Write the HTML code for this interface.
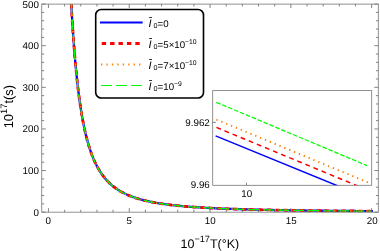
<!DOCTYPE html><html><head><meta charset="utf-8"><style>html,body{margin:0;padding:0;background:#fff}svg{display:block;will-change:transform}text{font-family:"Liberation Sans",sans-serif;fill:#000;text-rendering:geometricPrecision}</style></head><body>
<svg width="380" height="251" viewBox="0 0 380 251">
<rect width="380" height="251" fill="#fff"/>
<clipPath id="c"><rect x="41.75" y="4.1" width="336.55" height="208.07"/></clipPath>
<g clip-path="url(#c)" fill="none">
<path d="M71.26,4.10 L71.41,6.84 L71.56,9.54 L71.72,12.21 L71.87,14.85 L72.03,17.44 L72.18,20.01 L72.34,22.54 L72.50,25.04 L72.66,27.50 L72.82,29.93 L72.98,32.33 L73.15,34.70 L73.31,37.04 L73.48,39.34 L73.64,41.62 L73.81,43.86 L73.98,46.08 L74.15,48.27 L74.32,50.43 L74.49,52.56 L74.66,54.66 L74.84,56.73 L75.01,58.78 L75.19,60.80 L75.37,62.79 L75.55,64.76 L75.73,66.70 L75.91,68.62 L76.09,70.51 L76.28,72.37 L76.46,74.21 L76.65,76.03 L76.83,77.82 L77.02,79.59 L77.21,81.34 L77.40,83.06 L77.60,84.76 L77.79,86.44 L77.99,88.09 L78.18,89.73 L78.38,91.34 L78.58,92.93 L78.78,94.50 L78.98,96.05 L79.18,97.58 L79.39,99.09 L79.59,100.58 L79.80,102.05 L80.01,103.50 L80.22,104.93 L80.43,106.34 L80.64,107.73 L80.86,109.11 L81.07,110.47 L81.29,111.81 L81.51,113.13 L81.73,114.43 L81.95,115.72 L82.17,116.99 L82.40,118.24 L82.62,119.48 L82.85,120.70 L83.08,121.90 L83.31,123.09 L83.54,124.27 L83.77,125.42 L84.01,126.57 L84.24,127.69 L84.48,128.81 L84.72,129.90 L84.96,130.99 L85.21,132.06 L85.45,133.11 L85.70,134.15 L85.94,135.18 L86.19,136.19 L86.45,137.19 L86.70,138.18 L86.95,139.15 L87.21,140.12 L87.47,141.07 L87.73,142.00 L87.99,142.93 L88.25,143.84 L88.51,144.74 L88.78,145.63 L89.05,146.50 L89.32,147.37 L89.59,148.22 L89.86,149.06 L90.14,149.89 L90.42,150.71 L90.70,151.52 L90.98,152.32 L91.26,153.11 L91.54,153.89 L91.83,154.65 L92.12,155.41 L92.41,156.16 L92.70,156.90 L93.00,157.62 L93.29,158.34 L93.59,159.05 L93.89,159.75 L94.19,160.44 L94.50,161.12 L94.80,161.79 L95.11,162.46 L95.42,163.11 L95.73,163.76 L96.05,164.40 L96.37,165.03 L96.68,165.65 L97.00,166.26 L97.33,166.86 L97.65,167.46 L97.98,168.05 L98.31,168.63 L98.64,169.20 L98.97,169.77 L99.31,170.33 L99.65,170.88 L99.99,171.42 L100.33,171.96 L100.68,172.49 L101.02,173.01 L101.37,173.53 L101.73,174.04 L102.08,174.54 L102.44,175.03 L102.80,175.52 L103.16,176.00 L103.52,176.48 L103.89,176.95 L104.26,177.41 L104.63,177.87 L105.00,178.32 L105.38,178.77 L105.75,179.21 L106.14,179.64 L106.52,180.07 L106.91,180.49 L107.29,180.91 L107.69,181.32 L108.08,181.73 L108.48,182.13 L108.88,182.53 L109.28,182.92 L109.68,183.30 L110.09,183.68 L110.50,184.06 L110.91,184.43 L111.33,184.79 L111.74,185.15 L112.17,185.51 L112.59,185.86 L113.02,186.21 L113.45,186.55 L113.88,186.89 L114.31,187.22 L114.75,187.55 L115.19,187.87 L115.64,188.19 L116.08,188.51 L116.53,188.82 L116.98,189.13 L117.44,189.43 L117.90,189.73 L118.36,190.02 L118.83,190.32 L119.29,190.60 L119.77,190.89 L120.24,191.17 L120.72,191.44 L121.20,191.72 L121.68,191.99 L122.17,192.25 L122.66,192.51 L123.15,192.77 L123.65,193.03 L124.15,193.28 L124.65,193.53 L125.16,193.78 L125.67,194.02 L126.18,194.26 L126.70,194.49 L127.22,194.73 L127.74,194.95 L128.27,195.18 L128.80,195.41 L129.34,195.63 L129.87,195.84 L130.42,196.06 L130.96,196.27 L131.51,196.48 L132.06,196.69 L132.62,196.89 L133.18,197.09 L133.74,197.29 L134.31,197.49 L134.88,197.68 L135.45,197.87 L136.03,198.06 L136.61,198.24 L137.20,198.43 L137.79,198.61 L138.38,198.79 L138.98,198.96 L139.58,199.14 L140.19,199.31 L140.80,199.48 L141.42,199.65 L142.03,199.81 L142.66,199.97 L143.28,200.13 L143.91,200.29 L144.55,200.45 L145.19,200.60 L145.83,200.76 L146.48,200.91 L147.13,201.05 L147.79,201.20 L148.45,201.35 L149.11,201.49 L149.78,201.63 L150.45,201.77 L151.13,201.90 L151.82,202.04 L152.50,202.17 L153.19,202.30 L153.89,202.43 L154.59,202.56 L155.30,202.69 L156.01,202.81 L156.72,202.94 L157.44,203.06 L158.17,203.18 L158.90,203.30 L159.63,203.41 L160.37,203.53 L161.12,203.64 L161.87,203.76 L162.62,203.87 L163.38,203.98 L164.14,204.08 L164.91,204.19 L165.69,204.30 L166.47,204.40 L167.25,204.50 L168.04,204.60 L168.84,204.70 L169.64,204.80 L170.44,204.90 L171.25,204.99 L172.07,205.09 L172.89,205.18 L173.72,205.27 L174.55,205.36 L175.39,205.45 L176.24,205.54 L177.09,205.63 L177.94,205.72 L178.80,205.80 L179.67,205.88 L180.54,205.97 L181.42,206.05 L182.31,206.13 L183.20,206.21 L184.09,206.29 L184.99,206.36 L185.90,206.44 L186.82,206.52 L187.74,206.59 L188.66,206.66 L189.59,206.74 L190.53,206.81 L191.48,206.88 L192.43,206.95 L193.39,207.02 L194.35,207.09 L195.32,207.15 L196.30,207.22 L197.28,207.28 L198.27,207.35 L199.27,207.41 L200.27,207.47 L201.28,207.54 L202.30,207.60 L203.32,207.66 L204.35,207.72 L205.38,207.78 L206.43,207.83 L207.48,207.89 L208.54,207.95 L209.60,208.00 L210.67,208.06 L211.75,208.11 L212.84,208.16 L213.93,208.22 L215.03,208.27 L216.14,208.32 L217.25,208.37 L218.38,208.42 L219.51,208.47 L220.64,208.52 L221.79,208.57 L222.94,208.62 L224.10,208.66 L225.27,208.71 L226.45,208.75 L227.63,208.80 L228.82,208.84 L230.02,208.89 L231.23,208.93 L232.44,208.97 L233.67,209.01 L234.90,209.06 L236.14,209.10 L237.39,209.14 L238.64,209.18 L239.91,209.22 L241.18,209.26 L242.46,209.29 L243.75,209.33 L245.05,209.37 L246.36,209.41 L247.67,209.44 L249.00,209.48 L250.33,209.51 L251.68,209.55 L253.03,209.58 L254.39,209.62 L255.76,209.65 L257.14,209.68 L258.52,209.72 L259.92,209.75 L261.33,209.78 L262.74,209.81 L264.17,209.84 L265.60,209.87 L267.05,209.90 L268.50,209.93 L269.96,209.96 L271.44,209.99 L272.92,210.02 L274.41,210.05 L275.91,210.08 L277.43,210.11 L278.95,210.13 L280.48,210.16 L282.03,210.19 L283.58,210.21 L285.14,210.24 L286.72,210.26 L288.30,210.29 L289.90,210.31 L291.50,210.34 L293.12,210.36 L294.74,210.39 L296.38,210.41 L298.03,210.43 L299.69,210.46 L301.36,210.48 L303.04,210.50 L304.74,210.52 L306.44,210.54 L308.16,210.57 L309.88,210.59 L311.62,210.61 L313.37,210.63 L315.13,210.65 L316.91,210.67 L318.69,210.69 L320.49,210.71 L322.30,210.73 L324.12,210.75 L325.95,210.76 L327.80,210.78 L329.66,210.80 L331.53,210.82 L333.41,210.84 L335.30,210.85 L337.21,210.87 L339.13,210.89 L341.06,210.91 L343.01,210.92 L344.97,210.94 L346.94,210.96 L348.92,210.97 L350.92,210.99 L352.93,211.00 L354.96,211.02 L357.00,211.03 L359.05,211.05 L361.11,211.06 L363.19,211.08 L365.29,211.09 L367.39,211.11 L369.51,211.12 L371.65,211.13 L372.95,211.13" stroke="#0000ff" stroke-width="2.3"/>
<path d="M71.26,4.10 L71.41,6.84 L71.56,9.54 L71.72,12.21 L71.87,14.85 L72.03,17.44 L72.18,20.01 L72.34,22.54 L72.50,25.04 L72.66,27.50 L72.82,29.93 L72.98,32.33 L73.15,34.70 L73.31,37.04 L73.48,39.34 L73.64,41.62 L73.81,43.86 L73.98,46.08 L74.15,48.27 L74.32,50.43 L74.49,52.56 L74.66,54.66 L74.84,56.73 L75.01,58.78 L75.19,60.80 L75.37,62.79 L75.55,64.76 L75.73,66.70 L75.91,68.62 L76.09,70.51 L76.28,72.37 L76.46,74.21 L76.65,76.03 L76.83,77.82 L77.02,79.59 L77.21,81.34 L77.40,83.06 L77.60,84.76 L77.79,86.44 L77.99,88.09 L78.18,89.73 L78.38,91.34 L78.58,92.93 L78.78,94.50 L78.98,96.05 L79.18,97.58 L79.39,99.09 L79.59,100.58 L79.80,102.05 L80.01,103.50 L80.22,104.93 L80.43,106.34 L80.64,107.73 L80.86,109.11 L81.07,110.47 L81.29,111.81 L81.51,113.13 L81.73,114.43 L81.95,115.72 L82.17,116.99 L82.40,118.24 L82.62,119.48 L82.85,120.70 L83.08,121.90 L83.31,123.09 L83.54,124.27 L83.77,125.42 L84.01,126.57 L84.24,127.69 L84.48,128.81 L84.72,129.90 L84.96,130.99 L85.21,132.06 L85.45,133.11 L85.70,134.15 L85.94,135.18 L86.19,136.19 L86.45,137.19 L86.70,138.18 L86.95,139.15 L87.21,140.12 L87.47,141.07 L87.73,142.00 L87.99,142.93 L88.25,143.84 L88.51,144.74 L88.78,145.63 L89.05,146.50 L89.32,147.37 L89.59,148.22 L89.86,149.06 L90.14,149.89 L90.42,150.71 L90.70,151.52 L90.98,152.32 L91.26,153.11 L91.54,153.89 L91.83,154.65 L92.12,155.41 L92.41,156.16 L92.70,156.90 L93.00,157.62 L93.29,158.34 L93.59,159.05 L93.89,159.75 L94.19,160.44 L94.50,161.12 L94.80,161.79 L95.11,162.46 L95.42,163.11 L95.73,163.76 L96.05,164.40 L96.37,165.03 L96.68,165.65 L97.00,166.26 L97.33,166.86 L97.65,167.46 L97.98,168.05 L98.31,168.63 L98.64,169.20 L98.97,169.77 L99.31,170.33 L99.65,170.88 L99.99,171.42 L100.33,171.96 L100.68,172.49 L101.02,173.01 L101.37,173.53 L101.73,174.04 L102.08,174.54 L102.44,175.03 L102.80,175.52 L103.16,176.00 L103.52,176.48 L103.89,176.95 L104.26,177.41 L104.63,177.87 L105.00,178.32 L105.38,178.77 L105.75,179.21 L106.14,179.64 L106.52,180.07 L106.91,180.49 L107.29,180.91 L107.69,181.32 L108.08,181.73 L108.48,182.13 L108.88,182.53 L109.28,182.92 L109.68,183.30 L110.09,183.68 L110.50,184.06 L110.91,184.43 L111.33,184.79 L111.74,185.15 L112.17,185.51 L112.59,185.86 L113.02,186.21 L113.45,186.55 L113.88,186.89 L114.31,187.22 L114.75,187.55 L115.19,187.87 L115.64,188.19 L116.08,188.51 L116.53,188.82 L116.98,189.13 L117.44,189.43 L117.90,189.73 L118.36,190.02 L118.83,190.32 L119.29,190.60 L119.77,190.89 L120.24,191.17 L120.72,191.44 L121.20,191.72 L121.68,191.99 L122.17,192.25 L122.66,192.51 L123.15,192.77 L123.65,193.03 L124.15,193.28 L124.65,193.53 L125.16,193.78 L125.67,194.02 L126.18,194.26 L126.70,194.49 L127.22,194.73 L127.74,194.95 L128.27,195.18 L128.80,195.41 L129.34,195.63 L129.87,195.84 L130.42,196.06 L130.96,196.27 L131.51,196.48 L132.06,196.69 L132.62,196.89 L133.18,197.09 L133.74,197.29 L134.31,197.49 L134.88,197.68 L135.45,197.87 L136.03,198.06 L136.61,198.24 L137.20,198.43 L137.79,198.61 L138.38,198.79 L138.98,198.96 L139.58,199.14 L140.19,199.31 L140.80,199.48 L141.42,199.65 L142.03,199.81 L142.66,199.97 L143.28,200.13 L143.91,200.29 L144.55,200.45 L145.19,200.60 L145.83,200.76 L146.48,200.91 L147.13,201.05 L147.79,201.20 L148.45,201.35 L149.11,201.49 L149.78,201.63 L150.45,201.77 L151.13,201.90 L151.82,202.04 L152.50,202.17 L153.19,202.30 L153.89,202.43 L154.59,202.56 L155.30,202.69 L156.01,202.81 L156.72,202.94 L157.44,203.06 L158.17,203.18 L158.90,203.30 L159.63,203.41 L160.37,203.53 L161.12,203.64 L161.87,203.76 L162.62,203.87 L163.38,203.98 L164.14,204.08 L164.91,204.19 L165.69,204.30 L166.47,204.40 L167.25,204.50 L168.04,204.60 L168.84,204.70 L169.64,204.80 L170.44,204.90 L171.25,204.99 L172.07,205.09 L172.89,205.18 L173.72,205.27 L174.55,205.36 L175.39,205.45 L176.24,205.54 L177.09,205.63 L177.94,205.72 L178.80,205.80 L179.67,205.88 L180.54,205.97 L181.42,206.05 L182.31,206.13 L183.20,206.21 L184.09,206.29 L184.99,206.36 L185.90,206.44 L186.82,206.52 L187.74,206.59 L188.66,206.66 L189.59,206.74 L190.53,206.81 L191.48,206.88 L192.43,206.95 L193.39,207.02 L194.35,207.09 L195.32,207.15 L196.30,207.22 L197.28,207.28 L198.27,207.35 L199.27,207.41 L200.27,207.47 L201.28,207.54 L202.30,207.60 L203.32,207.66 L204.35,207.72 L205.38,207.78 L206.43,207.83 L207.48,207.89 L208.54,207.95 L209.60,208.00 L210.67,208.06 L211.75,208.11 L212.84,208.16 L213.93,208.22 L215.03,208.27 L216.14,208.32 L217.25,208.37 L218.38,208.42 L219.51,208.47 L220.64,208.52 L221.79,208.57 L222.94,208.62 L224.10,208.66 L225.27,208.71 L226.45,208.75 L227.63,208.80 L228.82,208.84 L230.02,208.89 L231.23,208.93 L232.44,208.97 L233.67,209.01 L234.90,209.06 L236.14,209.10 L237.39,209.14 L238.64,209.18 L239.91,209.22 L241.18,209.26 L242.46,209.29 L243.75,209.33 L245.05,209.37 L246.36,209.41 L247.67,209.44 L249.00,209.48 L250.33,209.51 L251.68,209.55 L253.03,209.58 L254.39,209.62 L255.76,209.65 L257.14,209.68 L258.52,209.72 L259.92,209.75 L261.33,209.78 L262.74,209.81 L264.17,209.84 L265.60,209.87 L267.05,209.90 L268.50,209.93 L269.96,209.96 L271.44,209.99 L272.92,210.02 L274.41,210.05 L275.91,210.08 L277.43,210.11 L278.95,210.13 L280.48,210.16 L282.03,210.19 L283.58,210.21 L285.14,210.24 L286.72,210.26 L288.30,210.29 L289.90,210.31 L291.50,210.34 L293.12,210.36 L294.74,210.39 L296.38,210.41 L298.03,210.43 L299.69,210.46 L301.36,210.48 L303.04,210.50 L304.74,210.52 L306.44,210.54 L308.16,210.57 L309.88,210.59 L311.62,210.61 L313.37,210.63 L315.13,210.65 L316.91,210.67 L318.69,210.69 L320.49,210.71 L322.30,210.73 L324.12,210.75 L325.95,210.76 L327.80,210.78 L329.66,210.80 L331.53,210.82 L333.41,210.84 L335.30,210.85 L337.21,210.87 L339.13,210.89 L341.06,210.91 L343.01,210.92 L344.97,210.94 L346.94,210.96 L348.92,210.97 L350.92,210.99 L352.93,211.00 L354.96,211.02 L357.00,211.03 L359.05,211.05 L361.11,211.06 L363.19,211.08 L365.29,211.09 L367.39,211.11 L369.51,211.12 L371.65,211.13" stroke="#ff0000" stroke-width="2.8" stroke-dasharray="4.3 4"/>
<path d="M71.26,4.10 L71.41,6.84 L71.56,9.54 L71.72,12.21 L71.87,14.85 L72.03,17.44 L72.18,20.01 L72.34,22.54 L72.50,25.04 L72.66,27.50 L72.82,29.93 L72.98,32.33 L73.15,34.70 L73.31,37.04 L73.48,39.34 L73.64,41.62 L73.81,43.86 L73.98,46.08 L74.15,48.27 L74.32,50.43 L74.49,52.56 L74.66,54.66 L74.84,56.73 L75.01,58.78 L75.19,60.80 L75.37,62.79 L75.55,64.76 L75.73,66.70 L75.91,68.62 L76.09,70.51 L76.28,72.37 L76.46,74.21 L76.65,76.03 L76.83,77.82 L77.02,79.59 L77.21,81.34 L77.40,83.06 L77.60,84.76 L77.79,86.44 L77.99,88.09 L78.18,89.73 L78.38,91.34 L78.58,92.93 L78.78,94.50 L78.98,96.05 L79.18,97.58 L79.39,99.09 L79.59,100.58 L79.80,102.05 L80.01,103.50 L80.22,104.93 L80.43,106.34 L80.64,107.73 L80.86,109.11 L81.07,110.47 L81.29,111.81 L81.51,113.13 L81.73,114.43 L81.95,115.72 L82.17,116.99 L82.40,118.24 L82.62,119.48 L82.85,120.70 L83.08,121.90 L83.31,123.09 L83.54,124.27 L83.77,125.42 L84.01,126.57 L84.24,127.69 L84.48,128.81 L84.72,129.90 L84.96,130.99 L85.21,132.06 L85.45,133.11 L85.70,134.15 L85.94,135.18 L86.19,136.19 L86.45,137.19 L86.70,138.18 L86.95,139.15 L87.21,140.12 L87.47,141.07 L87.73,142.00 L87.99,142.93 L88.25,143.84 L88.51,144.74 L88.78,145.63 L89.05,146.50 L89.32,147.37 L89.59,148.22 L89.86,149.06 L90.14,149.89 L90.42,150.71 L90.70,151.52 L90.98,152.32 L91.26,153.11 L91.54,153.89 L91.83,154.65 L92.12,155.41 L92.41,156.16 L92.70,156.90 L93.00,157.62 L93.29,158.34 L93.59,159.05 L93.89,159.75 L94.19,160.44 L94.50,161.12 L94.80,161.79 L95.11,162.46 L95.42,163.11 L95.73,163.76 L96.05,164.40 L96.37,165.03 L96.68,165.65 L97.00,166.26 L97.33,166.86 L97.65,167.46 L97.98,168.05 L98.31,168.63 L98.64,169.20 L98.97,169.77 L99.31,170.33 L99.65,170.88 L99.99,171.42 L100.33,171.96 L100.68,172.49 L101.02,173.01 L101.37,173.53 L101.73,174.04 L102.08,174.54 L102.44,175.03 L102.80,175.52 L103.16,176.00 L103.52,176.48 L103.89,176.95 L104.26,177.41 L104.63,177.87 L105.00,178.32 L105.38,178.77 L105.75,179.21 L106.14,179.64 L106.52,180.07 L106.91,180.49 L107.29,180.91 L107.69,181.32 L108.08,181.73 L108.48,182.13 L108.88,182.53 L109.28,182.92 L109.68,183.30 L110.09,183.68 L110.50,184.06 L110.91,184.43 L111.33,184.79 L111.74,185.15 L112.17,185.51 L112.59,185.86 L113.02,186.21 L113.45,186.55 L113.88,186.89 L114.31,187.22 L114.75,187.55 L115.19,187.87 L115.64,188.19 L116.08,188.51 L116.53,188.82 L116.98,189.13 L117.44,189.43 L117.90,189.73 L118.36,190.02 L118.83,190.32 L119.29,190.60 L119.77,190.89 L120.24,191.17 L120.72,191.44 L121.20,191.72 L121.68,191.99 L122.17,192.25 L122.66,192.51 L123.15,192.77 L123.65,193.03 L124.15,193.28 L124.65,193.53 L125.16,193.78 L125.67,194.02 L126.18,194.26 L126.70,194.49 L127.22,194.73 L127.74,194.95 L128.27,195.18 L128.80,195.41 L129.34,195.63 L129.87,195.84 L130.42,196.06 L130.96,196.27 L131.51,196.48 L132.06,196.69 L132.62,196.89 L133.18,197.09 L133.74,197.29 L134.31,197.49 L134.88,197.68 L135.45,197.87 L136.03,198.06 L136.61,198.24 L137.20,198.43 L137.79,198.61 L138.38,198.79 L138.98,198.96 L139.58,199.14 L140.19,199.31 L140.80,199.48 L141.42,199.65 L142.03,199.81 L142.66,199.97 L143.28,200.13 L143.91,200.29 L144.55,200.45 L145.19,200.60 L145.83,200.76 L146.48,200.91 L147.13,201.05 L147.79,201.20 L148.45,201.35 L149.11,201.49 L149.78,201.63 L150.45,201.77 L151.13,201.90 L151.82,202.04 L152.50,202.17 L153.19,202.30 L153.89,202.43 L154.59,202.56 L155.30,202.69 L156.01,202.81 L156.72,202.94 L157.44,203.06 L158.17,203.18 L158.90,203.30 L159.63,203.41 L160.37,203.53 L161.12,203.64 L161.87,203.76 L162.62,203.87 L163.38,203.98 L164.14,204.08 L164.91,204.19 L165.69,204.30 L166.47,204.40 L167.25,204.50 L168.04,204.60 L168.84,204.70 L169.64,204.80 L170.44,204.90 L171.25,204.99 L172.07,205.09 L172.89,205.18 L173.72,205.27 L174.55,205.36 L175.39,205.45 L176.24,205.54 L177.09,205.63 L177.94,205.72 L178.80,205.80 L179.67,205.88 L180.54,205.97 L181.42,206.05 L182.31,206.13 L183.20,206.21 L184.09,206.29 L184.99,206.36 L185.90,206.44 L186.82,206.52 L187.74,206.59 L188.66,206.66 L189.59,206.74 L190.53,206.81 L191.48,206.88 L192.43,206.95 L193.39,207.02 L194.35,207.09 L195.32,207.15 L196.30,207.22 L197.28,207.28 L198.27,207.35 L199.27,207.41 L200.27,207.47 L201.28,207.54 L202.30,207.60 L203.32,207.66 L204.35,207.72 L205.38,207.78 L206.43,207.83 L207.48,207.89 L208.54,207.95 L209.60,208.00 L210.67,208.06 L211.75,208.11 L212.84,208.16 L213.93,208.22 L215.03,208.27 L216.14,208.32 L217.25,208.37 L218.38,208.42 L219.51,208.47 L220.64,208.52 L221.79,208.57 L222.94,208.62 L224.10,208.66 L225.27,208.71 L226.45,208.75 L227.63,208.80 L228.82,208.84 L230.02,208.89 L231.23,208.93 L232.44,208.97 L233.67,209.01 L234.90,209.06 L236.14,209.10 L237.39,209.14 L238.64,209.18 L239.91,209.22 L241.18,209.26 L242.46,209.29 L243.75,209.33 L245.05,209.37 L246.36,209.41 L247.67,209.44 L249.00,209.48 L250.33,209.51 L251.68,209.55 L253.03,209.58 L254.39,209.62 L255.76,209.65 L257.14,209.68 L258.52,209.72 L259.92,209.75 L261.33,209.78 L262.74,209.81 L264.17,209.84 L265.60,209.87 L267.05,209.90 L268.50,209.93 L269.96,209.96 L271.44,209.99 L272.92,210.02 L274.41,210.05 L275.91,210.08 L277.43,210.11 L278.95,210.13 L280.48,210.16 L282.03,210.19 L283.58,210.21 L285.14,210.24 L286.72,210.26 L288.30,210.29 L289.90,210.31 L291.50,210.34 L293.12,210.36 L294.74,210.39 L296.38,210.41 L298.03,210.43 L299.69,210.46 L301.36,210.48 L303.04,210.50 L304.74,210.52 L306.44,210.54 L308.16,210.57 L309.88,210.59 L311.62,210.61 L313.37,210.63 L315.13,210.65 L316.91,210.67 L318.69,210.69 L320.49,210.71 L322.30,210.73 L324.12,210.75 L325.95,210.76 L327.80,210.78 L329.66,210.80 L331.53,210.82 L333.41,210.84 L335.30,210.85 L337.21,210.87 L339.13,210.89 L341.06,210.91 L343.01,210.92 L344.97,210.94 L346.94,210.96 L348.92,210.97 L350.92,210.99 L352.93,211.00 L354.96,211.02 L357.00,211.03 L359.05,211.05 L361.11,211.06 L363.19,211.08 L365.29,211.09 L367.39,211.11 L369.51,211.12 L371.65,211.13" stroke="#ff8000" stroke-width="2" stroke-dasharray="1.3 4.1"/>
<path d="M71.26,4.10 L71.41,6.84 L71.56,9.54 L71.72,12.21 L71.87,14.85 L72.03,17.44 L72.18,20.01 L72.34,22.54 L72.50,25.04 L72.66,27.50 L72.82,29.93 L72.98,32.33 L73.15,34.70 L73.31,37.04 L73.48,39.34 L73.64,41.62 L73.81,43.86 L73.98,46.08 L74.15,48.27 L74.32,50.43 L74.49,52.56 L74.66,54.66 L74.84,56.73 L75.01,58.78 L75.19,60.80 L75.37,62.79 L75.55,64.76 L75.73,66.70 L75.91,68.62 L76.09,70.51 L76.28,72.37 L76.46,74.21 L76.65,76.03 L76.83,77.82 L77.02,79.59 L77.21,81.34 L77.40,83.06 L77.60,84.76 L77.79,86.44 L77.99,88.09 L78.18,89.73 L78.38,91.34 L78.58,92.93 L78.78,94.50 L78.98,96.05 L79.18,97.58 L79.39,99.09 L79.59,100.58 L79.80,102.05 L80.01,103.50 L80.22,104.93 L80.43,106.34 L80.64,107.73 L80.86,109.11 L81.07,110.47 L81.29,111.81 L81.51,113.13 L81.73,114.43 L81.95,115.72 L82.17,116.99 L82.40,118.24 L82.62,119.48 L82.85,120.70 L83.08,121.90 L83.31,123.09 L83.54,124.27 L83.77,125.42 L84.01,126.57 L84.24,127.69 L84.48,128.81 L84.72,129.90 L84.96,130.99 L85.21,132.06 L85.45,133.11 L85.70,134.15 L85.94,135.18 L86.19,136.19 L86.45,137.19 L86.70,138.18 L86.95,139.15 L87.21,140.12 L87.47,141.07 L87.73,142.00 L87.99,142.93 L88.25,143.84 L88.51,144.74 L88.78,145.63 L89.05,146.50 L89.32,147.37 L89.59,148.22 L89.86,149.06 L90.14,149.89 L90.42,150.71 L90.70,151.52 L90.98,152.32 L91.26,153.11 L91.54,153.89 L91.83,154.65 L92.12,155.41 L92.41,156.16 L92.70,156.90 L93.00,157.62 L93.29,158.34 L93.59,159.05 L93.89,159.75 L94.19,160.44 L94.50,161.12 L94.80,161.79 L95.11,162.46 L95.42,163.11 L95.73,163.76 L96.05,164.40 L96.37,165.03 L96.68,165.65 L97.00,166.26 L97.33,166.86 L97.65,167.46 L97.98,168.05 L98.31,168.63 L98.64,169.20 L98.97,169.77 L99.31,170.33 L99.65,170.88 L99.99,171.42 L100.33,171.96 L100.68,172.49 L101.02,173.01 L101.37,173.53 L101.73,174.04 L102.08,174.54 L102.44,175.03 L102.80,175.52 L103.16,176.00 L103.52,176.48 L103.89,176.95 L104.26,177.41 L104.63,177.87 L105.00,178.32 L105.38,178.77 L105.75,179.21 L106.14,179.64 L106.52,180.07 L106.91,180.49 L107.29,180.91 L107.69,181.32 L108.08,181.73 L108.48,182.13 L108.88,182.53 L109.28,182.92 L109.68,183.30 L110.09,183.68 L110.50,184.06 L110.91,184.43 L111.33,184.79 L111.74,185.15 L112.17,185.51 L112.59,185.86 L113.02,186.21 L113.45,186.55 L113.88,186.89 L114.31,187.22 L114.75,187.55 L115.19,187.87 L115.64,188.19 L116.08,188.51 L116.53,188.82 L116.98,189.13 L117.44,189.43 L117.90,189.73 L118.36,190.02 L118.83,190.32 L119.29,190.60 L119.77,190.89 L120.24,191.17 L120.72,191.44 L121.20,191.72 L121.68,191.99 L122.17,192.25 L122.66,192.51 L123.15,192.77 L123.65,193.03 L124.15,193.28 L124.65,193.53 L125.16,193.78 L125.67,194.02 L126.18,194.26 L126.70,194.49 L127.22,194.73 L127.74,194.95 L128.27,195.18 L128.80,195.41 L129.34,195.63 L129.87,195.84 L130.42,196.06 L130.96,196.27 L131.51,196.48 L132.06,196.69 L132.62,196.89 L133.18,197.09 L133.74,197.29 L134.31,197.49 L134.88,197.68 L135.45,197.87 L136.03,198.06 L136.61,198.24 L137.20,198.43 L137.79,198.61 L138.38,198.79 L138.98,198.96 L139.58,199.14 L140.19,199.31 L140.80,199.48 L141.42,199.65 L142.03,199.81 L142.66,199.97 L143.28,200.13 L143.91,200.29 L144.55,200.45 L145.19,200.60 L145.83,200.76 L146.48,200.91 L147.13,201.05 L147.79,201.20 L148.45,201.35 L149.11,201.49 L149.78,201.63 L150.45,201.77 L151.13,201.90 L151.82,202.04 L152.50,202.17 L153.19,202.30 L153.89,202.43 L154.59,202.56 L155.30,202.69 L156.01,202.81 L156.72,202.94 L157.44,203.06 L158.17,203.18 L158.90,203.30 L159.63,203.41 L160.37,203.53 L161.12,203.64 L161.87,203.76 L162.62,203.87 L163.38,203.98 L164.14,204.08 L164.91,204.19 L165.69,204.30 L166.47,204.40 L167.25,204.50 L168.04,204.60 L168.84,204.70 L169.64,204.80 L170.44,204.90 L171.25,204.99 L172.07,205.09 L172.89,205.18 L173.72,205.27 L174.55,205.36 L175.39,205.45 L176.24,205.54 L177.09,205.63 L177.94,205.72 L178.80,205.80 L179.67,205.88 L180.54,205.97 L181.42,206.05 L182.31,206.13 L183.20,206.21 L184.09,206.29 L184.99,206.36 L185.90,206.44 L186.82,206.52 L187.74,206.59 L188.66,206.66 L189.59,206.74 L190.53,206.81 L191.48,206.88 L192.43,206.95 L193.39,207.02 L194.35,207.09 L195.32,207.15 L196.30,207.22 L197.28,207.28 L198.27,207.35 L199.27,207.41 L200.27,207.47 L201.28,207.54 L202.30,207.60 L203.32,207.66 L204.35,207.72 L205.38,207.78 L206.43,207.83 L207.48,207.89 L208.54,207.95 L209.60,208.00 L210.67,208.06 L211.75,208.11 L212.84,208.16 L213.93,208.22 L215.03,208.27 L216.14,208.32 L217.25,208.37 L218.38,208.42 L219.51,208.47 L220.64,208.52 L221.79,208.57 L222.94,208.62 L224.10,208.66 L225.27,208.71 L226.45,208.75 L227.63,208.80 L228.82,208.84 L230.02,208.89 L231.23,208.93 L232.44,208.97 L233.67,209.01 L234.90,209.06 L236.14,209.10 L237.39,209.14 L238.64,209.18 L239.91,209.22 L241.18,209.26 L242.46,209.29 L243.75,209.33 L245.05,209.37 L246.36,209.41 L247.67,209.44 L249.00,209.48 L250.33,209.51 L251.68,209.55 L253.03,209.58 L254.39,209.62 L255.76,209.65 L257.14,209.68 L258.52,209.72 L259.92,209.75 L261.33,209.78 L262.74,209.81 L264.17,209.84 L265.60,209.87 L267.05,209.90 L268.50,209.93 L269.96,209.96 L271.44,209.99 L272.92,210.02 L274.41,210.05 L275.91,210.08 L277.43,210.11 L278.95,210.13 L280.48,210.16 L282.03,210.19 L283.58,210.21 L285.14,210.24 L286.72,210.26 L288.30,210.29 L289.90,210.31 L291.50,210.34 L293.12,210.36 L294.74,210.39 L296.38,210.41 L298.03,210.43 L299.69,210.46 L301.36,210.48 L303.04,210.50 L304.74,210.52 L306.44,210.54 L308.16,210.57 L309.88,210.59 L311.62,210.61 L313.37,210.63 L315.13,210.65 L316.91,210.67 L318.69,210.69 L320.49,210.71 L322.30,210.73 L324.12,210.75 L325.95,210.76 L327.80,210.78 L329.66,210.80 L331.53,210.82 L333.41,210.84 L335.30,210.85 L337.21,210.87 L339.13,210.89 L341.06,210.91 L343.01,210.92 L344.97,210.94 L346.94,210.96 L348.92,210.97 L350.92,210.99 L352.93,211.00 L354.96,211.02 L357.00,211.03 L359.05,211.05 L361.11,211.06 L363.19,211.08 L365.29,211.09 L367.39,211.11 L369.51,211.12 L371.65,211.13" stroke="#00ff00" stroke-width="1.25" stroke-dasharray="11 4"/>
</g>
<path d="M48.45,212.17v-4M48.45,4.1v4M64.61,212.17v-2.4M64.61,4.1v2.4M80.77,212.17v-2.4M80.77,4.1v2.4M96.93,212.17v-2.4M96.93,4.1v2.4M113.09,212.17v-2.4M113.09,4.1v2.4M129.25,212.17v-4M129.25,4.1v4M145.41,212.17v-2.4M145.41,4.1v2.4M161.57,212.17v-2.4M161.57,4.1v2.4M177.73,212.17v-2.4M177.73,4.1v2.4M193.89,212.17v-2.4M193.89,4.1v2.4M210.05,212.17v-4M210.05,4.1v4M226.21,212.17v-2.4M226.21,4.1v2.4M242.37,212.17v-2.4M242.37,4.1v2.4M258.53,212.17v-2.4M258.53,4.1v2.4M274.69,212.17v-2.4M274.69,4.1v2.4M290.85,212.17v-4M290.85,4.1v4M307.01,212.17v-2.4M307.01,4.1v2.4M323.17,212.17v-2.4M323.17,4.1v2.4M339.33,212.17v-2.4M339.33,4.1v2.4M355.49,212.17v-2.4M355.49,4.1v2.4M371.65,212.17v-4M371.65,4.1v4M41.75,212.17h4M378.3,212.17h-4M41.75,203.85h2.4M378.3,203.85h-2.4M41.75,195.52h2.4M378.3,195.52h-2.4M41.75,187.20h2.4M378.3,187.20h-2.4M41.75,178.88h2.4M378.3,178.88h-2.4M41.75,170.56h4M378.3,170.56h-4M41.75,162.23h2.4M378.3,162.23h-2.4M41.75,153.91h2.4M378.3,153.91h-2.4M41.75,145.59h2.4M378.3,145.59h-2.4M41.75,137.26h2.4M378.3,137.26h-2.4M41.75,128.94h4M378.3,128.94h-4M41.75,120.62h2.4M378.3,120.62h-2.4M41.75,112.30h2.4M378.3,112.30h-2.4M41.75,103.97h2.4M378.3,103.97h-2.4M41.75,95.65h2.4M378.3,95.65h-2.4M41.75,87.33h4M378.3,87.33h-4M41.75,79.01h2.4M378.3,79.01h-2.4M41.75,70.68h2.4M378.3,70.68h-2.4M41.75,62.36h2.4M378.3,62.36h-2.4M41.75,54.04h2.4M378.3,54.04h-2.4M41.75,45.71h4M378.3,45.71h-4M41.75,37.39h2.4M378.3,37.39h-2.4M41.75,29.07h2.4M378.3,29.07h-2.4M41.75,20.75h2.4M378.3,20.75h-2.4M41.75,12.42h2.4M378.3,12.42h-2.4M41.75,4.10h4M378.3,4.10h-4" stroke="#5a5a5a" stroke-width="0.75" fill="none"/>
<rect x="41.75" y="4.1" width="336.55" height="208.07" fill="none" stroke="#767676" stroke-width="0.8"/>
<text x="38.9" y="215.62" font-size="9.8" text-anchor="end">0</text>
<text x="38.9" y="174.01" font-size="9.8" text-anchor="end">100</text>
<text x="38.9" y="132.39" font-size="9.8" text-anchor="end">200</text>
<text x="38.9" y="90.78" font-size="9.8" text-anchor="end">300</text>
<text x="38.9" y="49.16" font-size="9.8" text-anchor="end">400</text>
<text x="38.9" y="7.55" font-size="9.8" text-anchor="end">500</text>
<text x="48.30" y="223.9" font-size="9.8" text-anchor="middle">0</text>
<text x="129.30" y="223.9" font-size="9.8" text-anchor="middle">5</text>
<text x="210.30" y="223.9" font-size="9.8" text-anchor="middle">10</text>
<text x="291.30" y="223.9" font-size="9.8" text-anchor="middle">15</text>
<text x="372.30" y="223.9" font-size="9.8" text-anchor="middle">20</text>
<text x="180.6" y="247.6" font-size="12.5">10<tspan font-size="9.1" dy="-5.8">−17</tspan><tspan dy="5.8">T(°K)</tspan></text>
<text transform="translate(12.9,128.3) rotate(-90)" font-size="12.9">10<tspan font-size="9.3" dy="-5.8">17</tspan><tspan dy="5.8">t(s)</tspan></text>
<rect x="95.7" y="9.5" width="107.8" height="88.5" rx="5.5" ry="5.5" fill="#fff" stroke="#000" stroke-width="1.6"/>
<path d="M100,22.5H142.6" stroke="#0000ff" stroke-width="2"/>
<path d="M101.7,43.5H142" stroke="#ff0000" stroke-width="3" stroke-dasharray="4.4 4.0"/>
<path d="M101,64.6H142" stroke="#ff8000" stroke-width="2" stroke-dasharray="1.3 4.14"/>
<path d="M101,85.5H142.4" stroke="#00ff00" stroke-width="1" stroke-dasharray="11 4"/>
<text x="148.4" y="26.8" font-size="11" font-style="italic">I</text>
<text x="153.5" y="27.6" font-size="7.2" fill="#111">0</text>
<text x="157.6" y="26.8" font-size="9.7">=0</text>
<path d="M149.1,17.5h2.9" stroke="#000" stroke-width="0.8"/>
<text x="148.4" y="47.8" font-size="11" font-style="italic">I</text>
<text x="153.5" y="48.599999999999994" font-size="7.2" fill="#111">0</text>
<text x="157.6" y="47.8" font-size="9.7">=5×10<tspan font-size="6.8" dy="-3.8">−10</tspan></text>
<path d="M149.1,38.5h2.9" stroke="#000" stroke-width="0.8"/>
<text x="148.4" y="68.8" font-size="11" font-style="italic">I</text>
<text x="153.5" y="69.6" font-size="7.2" fill="#111">0</text>
<text x="157.6" y="68.8" font-size="9.7">=7×10<tspan font-size="6.8" dy="-3.8">−10</tspan></text>
<path d="M149.1,59.5h2.9" stroke="#000" stroke-width="0.8"/>
<text x="148.4" y="89.8" font-size="11" font-style="italic">I</text>
<text x="153.5" y="90.6" font-size="7.2" fill="#111">0</text>
<text x="157.6" y="89.8" font-size="9.7">=10<tspan font-size="6.8" dy="-3.8">−9</tspan></text>
<path d="M149.1,80.5h2.9" stroke="#000" stroke-width="0.8"/>
<rect x="212.7" y="90.6" width="159.0" height="94.70000000000002" fill="#fff" stroke="#767676" stroke-width="0.8"/>
<clipPath id="ci"><rect x="212.7" y="90.6" width="159.0" height="94.70000000000002"/></clipPath>
<g clip-path="url(#ci)" fill="none">
<path d="M215.6,135.9L340,186.78" stroke="#0000ff" stroke-width="1.5"/>
<path d="M216.4,127.4L358,186.09" stroke="#ff0000" stroke-width="1.5" stroke-dasharray="4.8 3.96"/>
<path d="M216.4,119.6L368.8,182.77" stroke="#ff8000" stroke-width="2" stroke-dasharray="1.3 3.95"/>
<path d="M216.3,102.3L367,165.59" stroke="#00ff00" stroke-width="1.25" stroke-dasharray="4.6 1.8"/>
</g>
<path d="M212.7,122.4h3.2M246.5,185.3v-2.6" stroke="#5a5a5a" stroke-width="0.75"/>
<text x="209.8" y="125.8" font-size="9.8" text-anchor="end">9.962</text>
<text x="209.8" y="188.2" font-size="9.8" text-anchor="end">9.96</text>
<text x="246.8" y="197.4" font-size="9.8" text-anchor="middle">10</text>
</svg></body></html>
